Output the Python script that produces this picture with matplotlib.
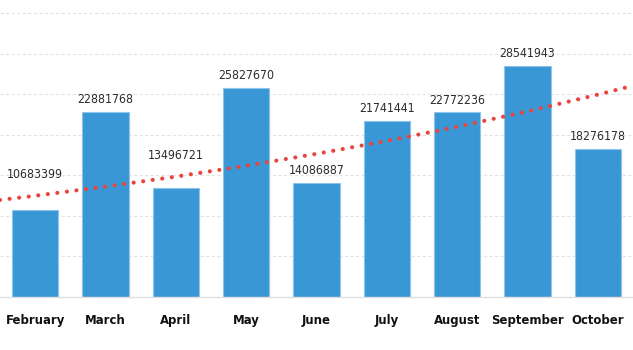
import matplotlib
matplotlib.use('Agg')
import matplotlib.pyplot as plt

months = ['February', 'March', 'April', 'May', 'June', 'July', 'August', 'September', 'October']
values = [10683399, 22881768, 13496721, 25827670, 14086887, 21741441, 22772236, 28541943, 18276178]

# trend line, at the left edge, each month, and the right edge
trend_pos = [-0.5, 0, 1, 2, 3, 4, 5, 6, 7, 8, 8.5]
trend_values = [11.97e6, 12.49e6, 13.62e6, 14.85e6, 16.20e6, 17.66e6,
                19.26e6, 21.00e6, 22.90e6, 24.97e6, 26.07e6]

plt.rcParams['font.family'] = ['DejaVu Sans']
plt.rcParams['font.stretch'] = 'condensed'

fig = plt.figure(figsize=(6.33, 3.5), dpi=100)
ax = fig.add_axes([0, 53 / 350, 1, 297 / 350])

x = list(range(len(months)))
ax.bar(x, values, width=0.663, color='#3a97d6', edgecolor='#8cc4ec', linewidth=0.8, zorder=2)

# labels sit on the bar, unless the trend line is just above it: then on the line
label_room = 2.5e6
for i, v in enumerate(values):
    t = trend_values[i + 1]
    if 0 < t - v < label_room:
        anchor, off = t, 10.5
    else:
        anchor, off = v, 4
    ax.annotate(str(v), (i, anchor), xytext=(0, off), textcoords='offset points',
                ha='center', va='bottom', fontsize=8.8, color='#2b2b2b', zorder=4)

ax.plot(trend_pos, trend_values, color='#e8453c', linewidth=3.0,
        linestyle=(0, (0.01, 2.3)), dash_capstyle='round', zorder=3)

ax.set_xlim(-0.5, 8.5)
ax.set_ylim(0, 36.64e6)
ax.set_yticks([5e6 * k for k in range(1, 8)])
ax.set_yticklabels([])
ax.tick_params(axis='y', length=0)
ax.grid(axis='y', color='#e3e3e3', linestyle=(0, (3, 2)), linewidth=0.8, zorder=0)

ax.set_xticks(x)
ax.set_xticklabels(months, fontsize=9.4, fontweight='bold', color='#111111')
ax.tick_params(axis='x', length=0, pad=12)

for s in ['top', 'right', 'left']:
    ax.spines[s].set_visible(False)
ax.spines['bottom'].set_color('#e0e0e0')
ax.spines['bottom'].set_linewidth(1.0)

fig.savefig('out.png', dpi=100)
